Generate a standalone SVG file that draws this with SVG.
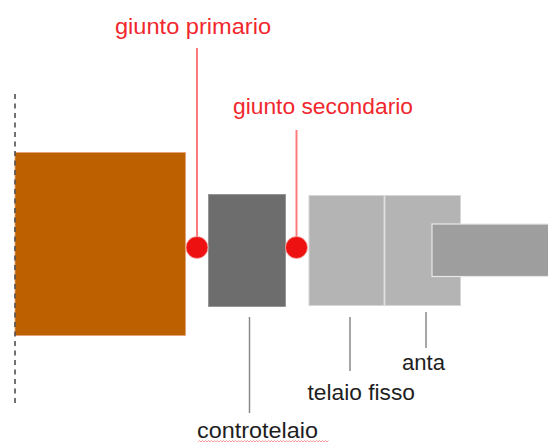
<svg xmlns="http://www.w3.org/2000/svg" width="548" height="443" viewBox="0 0 548 443">
<style>
.lbl{font-family:"Liberation Sans",Arial,sans-serif;font-size:22px;fill:#1e1e1e}
.red{fill:#f0282e}
.lead{stroke:#8a8a8a;stroke-width:1.5;fill:none}
.redlead{stroke:#ff7a7a;stroke-width:2;fill:none}
.joint{fill:#ee1111;stroke:#f6b0b0;stroke-width:0.8}
</style>
<rect width="548" height="443" fill="#ffffff"/>
<g id="muro">
<rect x="15" y="152.5" width="170.5" height="183" fill="#bd6100" stroke="#e9a071" stroke-width="0.8"/>
</g>
<g id="asse">
<line x1="15" y1="94" x2="15" y2="404" stroke="#4f4f4f" stroke-width="1.6" stroke-dasharray="5,4.5"/>
</g>
<g id="controtelaio">
<rect x="208.5" y="194.5" width="77" height="112" fill="#6d6d6d" stroke="#8c8c8c" stroke-width="0.8"/>
</g>
<g id="telaio-fisso">
<rect x="309" y="195.5" width="75" height="110" fill="#b4b4b4" stroke="#d6d6d6" stroke-width="1"/>
<rect x="385" y="195.5" width="75.5" height="110" fill="#b4b4b4" stroke="#d6d6d6" stroke-width="1"/>
</g>
<g id="anta">
<rect x="432" y="224" width="120" height="52.5" fill="#9e9e9e" stroke="#e8e8e8" stroke-width="1.2"/>
</g>
<g id="connectors">
<line class="redlead" x1="197" y1="48" x2="197" y2="240"/>
<line class="redlead" x1="296.5" y1="130" x2="296.5" y2="240"/>
<line class="lead" x1="249.5" y1="317" x2="249.5" y2="413"/>
<line class="lead" x1="350" y1="317" x2="350" y2="371"/>
<line class="lead" x1="426" y1="312" x2="426" y2="348"/>
</g>
<g id="giunto-primario">
<circle class="joint" cx="197" cy="247.5" r="11"/>
<text class="lbl red" x="115" y="34" textLength="156" lengthAdjust="spacingAndGlyphs">giunto primario</text>
</g>
<g id="giunto-secondario">
<circle class="joint" cx="296.5" cy="247.5" r="11"/>
<text class="lbl red" x="233" y="113.5" textLength="180" lengthAdjust="spacingAndGlyphs">giunto secondario</text>
</g>
<g id="label-anta">
<text class="lbl" x="402" y="369.5" textLength="43" lengthAdjust="spacingAndGlyphs">anta</text>
</g>
<g id="label-telaio-fisso">
<text class="lbl" x="307.5" y="400" textLength="107.5" lengthAdjust="spacingAndGlyphs">telaio fisso</text>
</g>
<g id="label-controtelaio">
<text class="lbl" x="197" y="438" textLength="121" lengthAdjust="spacingAndGlyphs">controtelaio</text>
<path d="M198 442 l1.5 -1.5 l1.5 1.5 l1.5 -1.5 l1.5 1.5 l1.5 -1.5 l1.5 1.5 l1.5 -1.5 l1.5 1.5 l1.5 -1.5 l1.5 1.5 l1.5 -1.5 l1.5 1.5 l1.5 -1.5 l1.5 1.5 l1.5 -1.5 l1.5 1.5 l1.5 -1.5 l1.5 1.5 l1.5 -1.5 l1.5 1.5 l1.5 -1.5 l1.5 1.5 l1.5 -1.5 l1.5 1.5 l1.5 -1.5 l1.5 1.5 l1.5 -1.5 l1.5 1.5 l1.5 -1.5 l1.5 1.5 l1.5 -1.5 l1.5 1.5 l1.5 -1.5 l1.5 1.5 l1.5 -1.5 l1.5 1.5 l1.5 -1.5 l1.5 1.5 l1.5 -1.5 l1.5 1.5 l1.5 -1.5 l1.5 1.5 l1.5 -1.5 l1.5 1.5 l1.5 -1.5 l1.5 1.5 l1.5 -1.5 l1.5 1.5 l1.5 -1.5 l1.5 1.5 l1.5 -1.5 l1.5 1.5 l1.5 -1.5 l1.5 1.5 l1.5 -1.5 l1.5 1.5 l1.5 -1.5 l1.5 1.5 l1.5 -1.5 l1.5 1.5 l1.5 -1.5 l1.5 1.5 l1.5 -1.5 l1.5 1.5 l1.5 -1.5 l1.5 1.5 l1.5 -1.5 l1.5 1.5 l1.5 -1.5 l1.5 1.5 l1.5 -1.5 l1.5 1.5 l1.5 -1.5 l1.5 1.5 l1.5 -1.5 l1.5 1.5 l1.5 -1.5 l1.5 1.5 l1.5 -1.5 l1.5 1.5 l1.5 -1.5 l1.5 1.5 l1.5 -1.5 l1.5 1.5 l1.5 -1.5 l1.5 1.5 l1.5 -1.5" fill="none" stroke="#f08080" stroke-width="0.8"/>
</g>
</svg>
